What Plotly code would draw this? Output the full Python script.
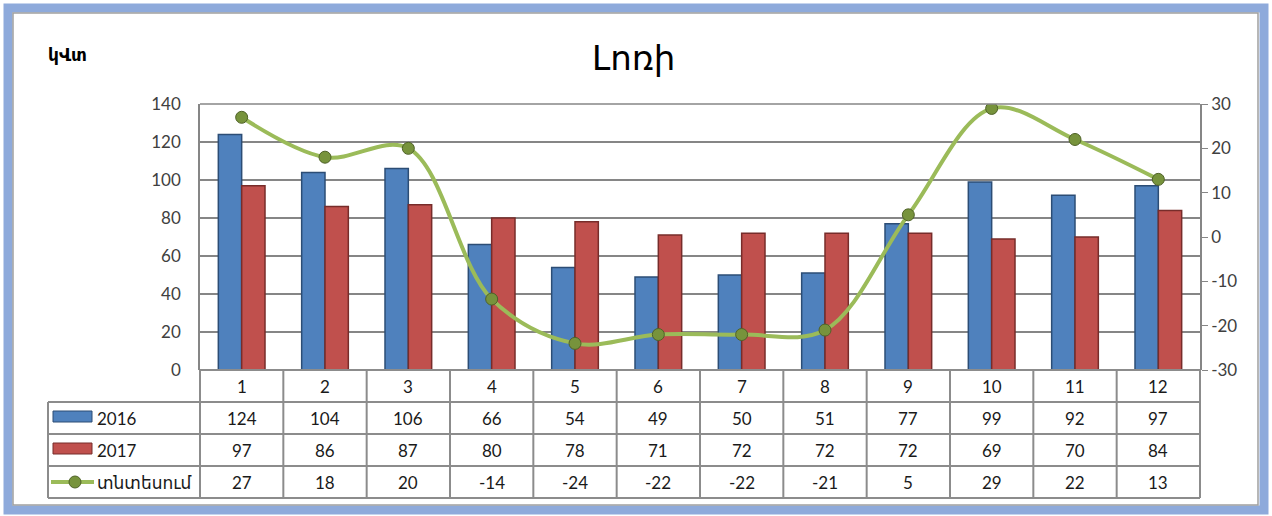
import plotly.graph_objects as go

months = [1, 2, 3, 4, 5, 6, 7, 8, 9, 10, 11, 12]
v2016 = [124, 104, 106, 66, 54, 49, 50, 51, 77, 99, 92, 97]
v2017 = [97, 86, 87, 80, 78, 71, 72, 72, 72, 69, 70, 84]
saving = [27, 18, 20, -14, -24, -22, -22, -21, 5, 29, 22, 13]
series_names = ["2016", "2017", "տնտեսում"]
y2_ticks = [-30, -20, -10, 0, 10, 20, 30]
y2_labels = [str(t) for t in y2_ticks]
title_text = "Լոռի"
unit_text = "կՎտ"

W, H = 1272, 516
L, R, T, B = 200, 72, 104, 146
PW, PH = W - L - R, H - T - B

def px(x):
    return (x - L) / PW

def py(y):
    return (H - B - y) / PH

BLUE = "#4f81bd"
RED = "#c0504d"
GREEN = "#9bbb59"
GRID = "#868686"
FONT = "Lato, DejaVu Sans, sans-serif"

fig = go.Figure()
fig.add_bar(x=months, y=v2016, name=series_names[0], marker=dict(color=BLUE, line=dict(color="#2c4d75", width=1.5)))
fig.add_bar(x=months, y=v2017, name=series_names[1], marker=dict(color=RED, line=dict(color="#772c2a", width=1.5)))
fig.add_scatter(x=months, y=saving, name=series_names[2], yaxis="y2", mode="lines+markers",
                line=dict(color=GREEN, width=4, shape="spline", smoothing=1),
                marker=dict(size=12, color="#77933c", line=dict(color="#4f6228", width=1)))

shapes = []
annotations = []

# Outer frame
shapes.append(dict(type="rect", xref="paper", yref="paper", x0=px(8), x1=px(1264), y0=py(8), y1=py(510),
                   line=dict(color="#8eaadb", width=9), layer="below"))
shapes.append(dict(type="rect", xref="paper", yref="paper", x0=px(13), x1=px(1258), y0=py(13), y1=py(505),
                   line=dict(color="#a0a0a0", width=1.5), layer="below"))

# Table grid
tc = "#8c8c8c"
row_y = [370, 402, 434, 466, 498]
shapes.append(dict(type="line", xref="paper", yref="paper", x0=px(200), x1=px(1200), y0=py(370), y1=py(370), line=dict(color=tc, width=2)))
for yy in row_y[1:]:
    shapes.append(dict(type="line", xref="paper", yref="paper", x0=px(48), x1=px(1200), y0=py(yy), y1=py(yy), line=dict(color=tc, width=2)))
for i in range(13):
    xx = 200 + i * PW / 12
    shapes.append(dict(type="line", xref="paper", yref="paper", x0=px(xx), x1=px(xx), y0=py(370), y1=py(498), line=dict(color=tc, width=2)))
shapes.append(dict(type="line", xref="paper", yref="paper", x0=px(48), x1=px(48), y0=py(402), y1=py(498), line=dict(color=tc, width=2)))

# Legend keys in table
shapes.append(dict(type="rect", xref="paper", yref="paper", x0=px(53), x1=px(92), y0=py(411), y1=py(422),
                   fillcolor=BLUE, line=dict(color="#2c4d75", width=1)))
shapes.append(dict(type="rect", xref="paper", yref="paper", x0=px(53), x1=px(92), y0=py(443), y1=py(454),
                   fillcolor=RED, line=dict(color="#772c2a", width=1)))
shapes.append(dict(type="line", xref="paper", yref="paper", x0=px(51), x1=px(94), y0=py(482), y1=py(482),
                   line=dict(color=GREEN, width=4)))
shapes.append(dict(type="circle", xref="paper", yref="paper", x0=px(69), x1=px(81), y0=py(476), y1=py(488),
                   fillcolor="#77933c", line=dict(color="#4f6228", width=1)))

legend_rows = [(series_names[0], 418), (series_names[1], 450), (series_names[2], 482)]
for name, yy in legend_rows:
    annotations.append(dict(text=name, xref="paper", yref="paper", x=px(95), y=py(yy), xanchor="left", yanchor="middle",
                            showarrow=False, font=dict(family=FONT, size=17, color="#1a1a1a")))

rows = [(months, 386), (v2016, 418), (v2017, 450), (saving, 482)]
for vals, yy in rows:
    for m, v in zip(months, vals):
        annotations.append(dict(text=str(v), xref="x", yref="paper", x=m, y=py(yy), xanchor="center", yanchor="middle",
                                showarrow=False, font=dict(family=FONT, size=17, color="#1a1a1a")))

annotations.append(dict(text=title_text, xref="paper", yref="paper", x=px(633), y=py(58), xanchor="center", yanchor="middle",
                        showarrow=False, font=dict(family="DejaVu Sans, sans-serif", size=34, color="#000000")))
annotations.append(dict(text="<b>" + unit_text + "</b>", xref="paper", yref="paper", x=px(46), y=py(55), xanchor="left", yanchor="middle",
                        showarrow=False, font=dict(family="DejaVu Sans, sans-serif", size=17, color="#000000")))

fig.update_layout(
    width=W, height=H,
    margin=dict(l=L, r=R, t=T, b=B),
    paper_bgcolor="white", plot_bgcolor="white",
    barmode="group", bargap=0.44, bargroupgap=0,
    showlegend=False,
    xaxis=dict(range=[0.5, 12.5], showticklabels=False, showgrid=False, zeroline=False, ticks="",
               showline=False, fixedrange=True),
    yaxis=dict(range=[0, 140], dtick=20, showgrid=True, gridcolor=GRID, gridwidth=1.5, zeroline=False,
               showline=True, linecolor=GRID, linewidth=1.5, mirror=False,
               tickfont=dict(family=FONT, size=17, color="#404040"), ticks="", ticklabelstandoff=14),
    yaxis2=dict(range=[-30, 30], tickvals=y2_ticks, ticktext=y2_labels, overlaying="y", side="right",
                showgrid=False, zeroline=False,
                showline=True, linecolor=GRID, linewidth=1.5, ticks="outside", ticklen=6, tickcolor=GRID,
                tickfont=dict(family=FONT, size=17, color="#404040")),
    shapes=shapes + [dict(type="line", xref="paper", yref="paper", x0=0, x1=1, y0=1, y1=1, line=dict(color=GRID, width=1.5))],
    annotations=annotations,
)

fig.write_html("out.html", config={"displayModeBar": False},
               post_script="document.body.style.margin='0';document.body.style.padding='0';")
